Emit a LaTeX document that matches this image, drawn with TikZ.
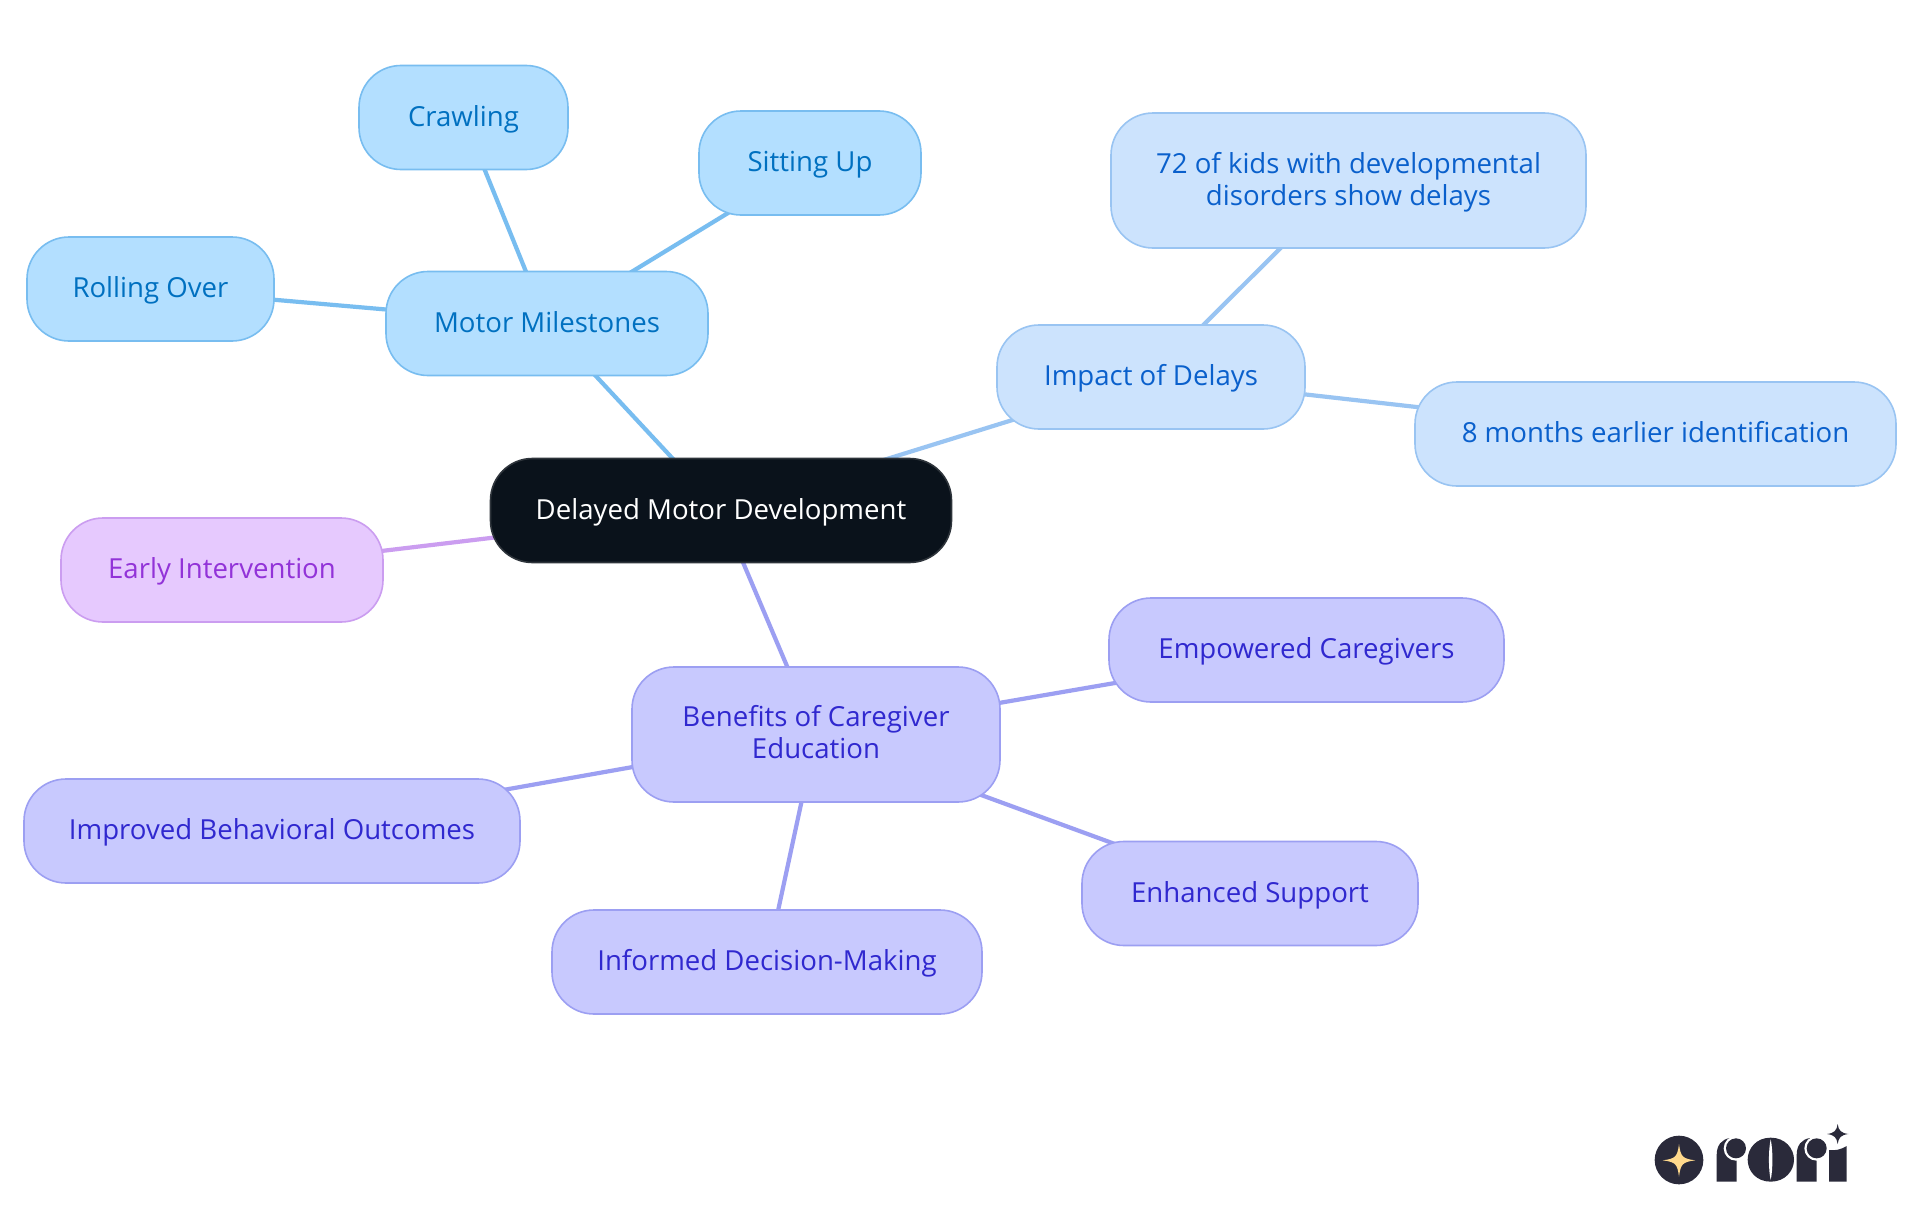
\documentclass[tikz,border=0pt]{standalone}
\usepackage{fontspec}
\setmainfont{Open Sans}
\usetikzlibrary{backgrounds}
\definecolor{mfill}{HTML}{B3DFFF}\definecolor{mline}{HTML}{78BDF0}\definecolor{mtext}{HTML}{0070C0}
\definecolor{ifill}{HTML}{CCE3FD}\definecolor{iline}{HTML}{99C4F2}\definecolor{itext}{HTML}{0A60CC}
\definecolor{bfill}{HTML}{C8C9FE}\definecolor{bline}{HTML}{9C9FF2}\definecolor{btext}{HTML}{3028CF}
\definecolor{efill}{HTML}{E6C9FE}\definecolor{eline}{HTML}{CB9DF0}\definecolor{etext}{HTML}{9233D8}
\definecolor{rfill}{HTML}{0A121B}\definecolor{rline}{HTML}{2E343B}
\definecolor{logod}{HTML}{2A2A3A}\definecolor{logos}{HTML}{FFD98C}
\newcommand{\dropline}[2]{\raisebox{-#1pt}[20pt][6pt]{#2}}
\tikzset{
  box/.style={rectangle,rounded corners=42pt,inner sep=0pt,line width=1.6pt,align=center,
    font=\fontsize{27.6}{32}\selectfont,
    execute at begin node={\rule{0pt}{24.3pt}},execute at end node={\vphantom{g}}},
  mbox/.style={box,draw=mline,fill=mfill,text=mtext},
  ibox/.style={box,draw=iline,fill=ifill,text=itext},
  bbox/.style={box,draw=bline,fill=bfill,text=btext},
  ebox/.style={box,draw=eline,fill=efill,text=etext},
  rbox/.style={box,draw=rline,fill=rfill,text=white},
  medge/.style={draw=mline,line width=4.2pt},
  iedge/.style={draw=iline,line width=4.2pt},
  bedge/.style={draw=bline,line width=4.2pt},
  eedge/.style={draw=eline,line width=4.2pt},
  size/.style 2 args={minimum width=#1pt,minimum height=#2pt}
}
\begin{document}
\begin{tikzpicture}[x=1pt,y=-1pt]
\useasboundingbox (0,0) rectangle (1920,1215);
\node[rbox,size={461}{104}] (root) at (721,510.5) {Delayed Motor Development};
\node[mbox,size={322}{104}] (motor) at (547,323.5) {Motor Milestones};
\node[mbox,size={209}{104}] (crawl) at (463.5,117.5) {Crawling};
\node[mbox,size={222}{104}] (sit) at (810,163) {Sitting Up};
\node[mbox,size={247}{104}] (roll) at (150.5,289) {Rolling Over};
\node[ibox,size={308}{104}] (impact) at (1151,377) {Impact of Delays};
\node[ibox,size={475}{135}] (kids) at (1348.5,180.5) {\dropline{2.5}{72 of kids with developmental}\\\dropline{2.5}{disorders show delays}};
\node[ibox,size={481}{104}] (months) at (1655.5,434) {8 months earlier identification};
\node[ebox,size={322}{104}] (early) at (222,570) {Early Intervention};
\node[bbox,size={368}{135}] (benefits) at (816,734.5) {\dropline{1}{Benefits of Caregiver}\\\dropline{1}{Education}};
\node[bbox,size={395}{104}] (empower) at (1306.5,650) {Empowered Caregivers};
\node[bbox,size={336}{104}] (enhanced) at (1250,893.5) {Enhanced Support};
\node[bbox,size={430}{104}] (informed) at (767,962) {Informed Decision-Making};
\node[bbox,size={496}{104}] (improved) at (272,831) {Improved Behavioral Outcomes};
\begin{scope}[on background layer]
\fill[white] (0,0) rectangle (1920,1215);
\draw[medge] (root.center) -- (motor.center);
\draw[medge] (motor.center) -- (crawl.center);
\draw[medge] (motor.center) -- (sit.center);
\draw[medge] (motor.center) -- (roll.center);
\draw[iedge] (root.center) -- (impact.center);
\draw[iedge] (impact.center) -- (kids.center);
\draw[iedge] (impact.center) -- (months.center);
\draw[eedge] (root.center) -- (early.center);
\draw[bedge] (root.center) -- (benefits.center);
\draw[bedge] (benefits.center) -- (empower.center);
\draw[bedge] (benefits.center) -- (enhanced.center);
\draw[bedge] (benefits.center) -- (informed.center);
\draw[bedge] (benefits.center) -- (improved.center);
\end{scope}
% logo
\begin{scope}[shift={(1620,1100)},x=1pt/3,y=-1pt/3]
\fill[logod] (177,180) circle [radius=73];
\fill[logos] (177,132) .. controls (182,170) and (187,176) .. (226,181) .. controls (187,186) and (182,192) .. (177,230) .. controls (172,192) and (167,186) .. (128,181) .. controls (167,176) and (172,170) .. (177,132) -- cycle;
% first r
\fill[logod] (290,245) -- (290,165) .. controls (290,135) and (305,118) .. (330,114) -- (350,114) -- (350,245) -- cycle;
\fill[white] (348,145) circle [radius=37];
\fill[logod] (348,145) circle [radius=30];
% o
\fill[logod] (452,113) .. controls (495,113) and (522,145) .. (522,179) .. controls (522,213) and (495,245) .. (452,245) .. controls (409,245) and (383,213) .. (383,179) .. controls (383,145) and (409,113) .. (452,113) -- cycle;
\fill[white] (452,118) .. controls (459,150) and (459,208) .. (452,240) .. controls (445,208) and (445,150) .. (452,118) -- cycle;
% second r
\fill[logod] (530,245) -- (530,165) .. controls (530,135) and (545,118) .. (570,114) -- (590,114) -- (590,245) -- cycle;
\fill[white] (590,145) circle [radius=37];
\fill[logod] (590,145) circle [radius=30];
% i
\fill[logod] (627,245) -- (627,150) .. controls (645,152) and (660,150) .. (680,138) -- (680,245) -- cycle;
\fill[logod] (653,72) .. controls (656,92) and (663,99) .. (685,102) .. controls (663,105) and (656,112) .. (653,132) .. controls (650,112) and (643,105) .. (621,102) .. controls (643,99) and (650,92) .. (653,72) -- cycle;
\end{scope}
\end{tikzpicture}
\end{document}
